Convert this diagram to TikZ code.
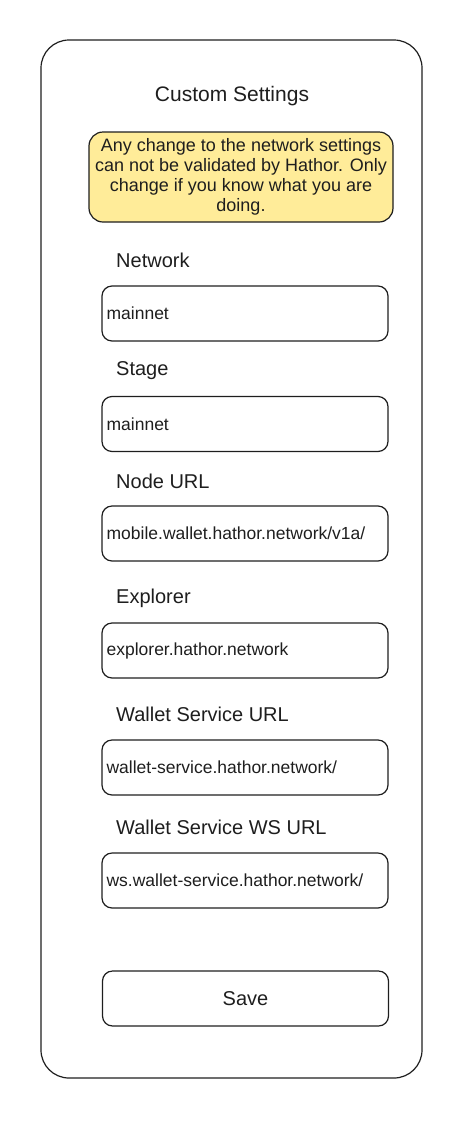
\documentclass[tikz,border=0pt]{standalone}
\usepackage{fontspec}
\setmainfont{Liberation Sans}
\usetikzlibrary{positioning}
\definecolor{ink}{HTML}{1E1E1E}
\definecolor{note}{HTML}{FFEC99}
\newcommand{\fsize}[1]{\fontsize{#1}{1.2\dimexpr #1pt\relax}\selectfont}

\begin{document}
\begin{tikzpicture}[x=1pt, y=-1pt,
		every node/.style={text=ink},
		card/.style={draw=ink, line width=1.2pt, rounded corners=28pt, minimum width=381pt, minimum height=1038pt},
		warn/.style={draw=ink, fill=note, line width=1.2pt, rounded corners=14pt, minimum width=304pt, minimum height=90pt, inner sep=1pt, align=center, font=\fontsize{18}{20}\selectfont},
		field/.style={draw=ink, line width=1.2pt, rounded corners=10pt, minimum width=286pt, minimum height=55pt},
		fieldname/.style={anchor=west, inner sep=0pt, font=\fsize{20}},
		fieldval/.style={anchor=west, inner sep=0pt, font=\fsize{17.5}}]
	\useasboundingbox (0,0) rectangle (468,1136);
	\node[card] (card) at (231.5,559) {};
	\node[font=\fsize{21}] (title) at (232,96) {Custom Settings};
	\node[warn] (warning) at (241,177) {Any change to the network settings\\
		can not be validated by Hathor. Only\\
		change if you know what you are\\
		doing.};
	% input fields
	\foreach \i/\ly/\fy/\name/\val in {
			1/260/313.5/Network/mainnet,
			2/371/424/Stage/mainnet,
			3/481/533.5/Node URL/{mobile.wallet.hathor.network/v1a/},
			4/598/650.5/Explorer/explorer.hathor.network,
			5/714/767.5/Wallet Service URL/{wallet-service.hathor.network/},
			6/827/880.5/Wallet Service WS URL/{ws.wallet-service.hathor.network/}}
	{
		\node[fieldname] (name\i) at (116,\ly) {\name};
		\node[field] (field\i) at (245,\fy) {};
		\node[fieldval] (val\i) at ([xshift=5pt]field\i.west) {\val};
	}
	\node[field, font=\fsize{20}] (save) at (245.5,998.5) {Save};
\end{tikzpicture}
\end{document}
